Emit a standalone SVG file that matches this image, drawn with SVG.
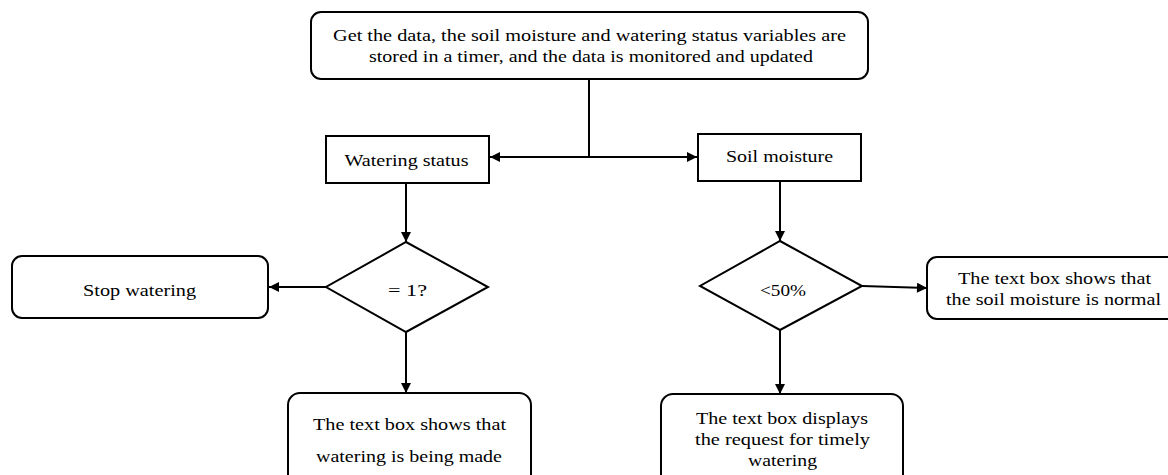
<svg xmlns="http://www.w3.org/2000/svg" width="1168" height="475" viewBox="0 0 1168 475">
<defs>
<style>
.n{fill:#fff;stroke:#000;stroke-width:2}
.t{font-family:"Liberation Serif","Times New Roman",serif;font-size:17px;fill:#000;text-anchor:middle}
.c{fill:none;stroke:#000;stroke-width:2}
</style>
<marker id="a" viewBox="0 0 10 10" refX="10" refY="5" markerWidth="11" markerHeight="10" orient="auto" markerUnits="userSpaceOnUse"><path d="M0,0L10,5L0,10Z" fill="#000"/></marker>
</defs>
<rect width="1168" height="475" fill="#fff"/>
<g id="connectors">
<path class="c" d="M589,80V157"/>
<path class="c" d="M589,157H490" marker-end="url(#a)"/>
<path class="c" d="M589,157H697" marker-end="url(#a)"/>
<path class="c" d="M406,184V242" marker-end="url(#a)"/>
<path class="c" d="M326,287H269" marker-end="url(#a)"/>
<path class="c" d="M406,332V393" marker-end="url(#a)"/>
<path class="c" d="M780,182V241" marker-end="url(#a)"/>
<path class="c" d="M862,286L927,288" marker-end="url(#a)"/>
<path class="c" d="M780,330V394" marker-end="url(#a)"/>
</g>
<g id="start">
<rect class="n" x="311" y="12" width="557" height="67" rx="10"/>
<text class="t" x="589.5" y="41" textLength="513" lengthAdjust="spacingAndGlyphs">Get the data, the soil moisture and watering status variables are</text>
<text class="t" x="591" y="62" textLength="444" lengthAdjust="spacingAndGlyphs">stored in a timer, and the data is monitored and updated</text>
</g>
<g id="watering-status">
<rect class="n" x="326" y="136" width="163" height="47"/>
<text class="t" x="406.5" y="166" textLength="124" lengthAdjust="spacingAndGlyphs">Watering status</text>
</g>
<g id="soil-moisture">
<rect class="n" x="698" y="134" width="163" height="47"/>
<text class="t" x="779.5" y="162" textLength="107" lengthAdjust="spacingAndGlyphs">Soil moisture</text>
</g>
<g id="decision-1">
<path class="n" d="M406,242L488,287L406,332L326,287Z"/>
<text class="t" x="407.5" y="296" textLength="39" lengthAdjust="spacingAndGlyphs">= 1?</text>
</g>
<g id="decision-2">
<path class="n" d="M780,241L862,286L780,330L700,286Z"/>
<text class="t" x="783" y="296" textLength="46" lengthAdjust="spacingAndGlyphs">&lt;50%</text>
</g>
<g id="stop-watering">
<rect class="n" x="12" y="256" width="256" height="62" rx="10"/>
<text class="t" x="139.5" y="296" textLength="113" lengthAdjust="spacingAndGlyphs">Stop watering</text>
</g>
<g id="normal">
<rect class="n" x="927" y="257" width="250" height="62" rx="10"/>
<text class="t" x="1054.5" y="284" textLength="193" lengthAdjust="spacingAndGlyphs">The text box shows that</text>
<text class="t" x="1053.5" y="305" textLength="215" lengthAdjust="spacingAndGlyphs">the soil moisture is normal</text>
</g>
<g id="being-made">
<rect class="n" x="288" y="393" width="243" height="95" rx="12"/>
<text class="t" x="409.5" y="430" textLength="193" lengthAdjust="spacingAndGlyphs">The text box shows that</text>
<text class="t" x="409" y="462" textLength="186" lengthAdjust="spacingAndGlyphs">watering is being made</text>
</g>
<g id="timely">
<rect class="n" x="661" y="394" width="242" height="95" rx="12"/>
<text class="t" x="782" y="424" textLength="172" lengthAdjust="spacingAndGlyphs">The text box displays</text>
<text class="t" x="782.5" y="445" textLength="175" lengthAdjust="spacingAndGlyphs">the request for timely</text>
<text class="t" x="782.5" y="466" textLength="69" lengthAdjust="spacingAndGlyphs">watering</text>
</g>
</svg>
